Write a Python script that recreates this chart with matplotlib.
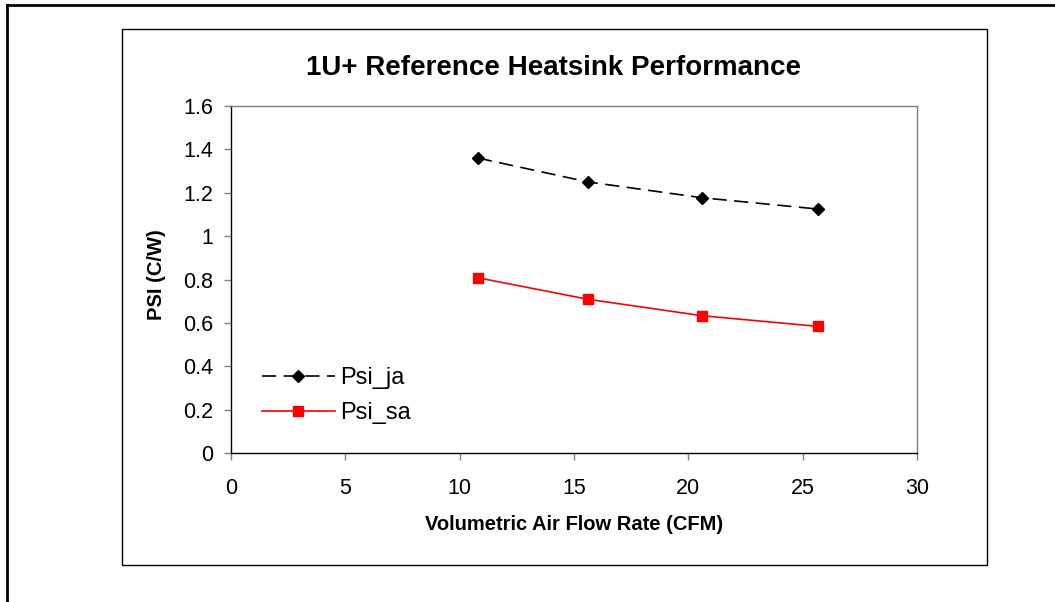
import matplotlib
matplotlib.use("Agg")
import matplotlib.pyplot as plt
from matplotlib.lines import Line2D
from matplotlib.patches import Rectangle
from matplotlib.ticker import FuncFormatter

plt.rcParams['font.family'] = ['Liberation Sans', 'DejaVu Sans']

# Data
flow_cfm = [10.8, 15.6, 20.6, 25.65]
psi_ja = [1.36, 1.25, 1.177, 1.125]
psi_sa = [0.808, 0.709, 0.633, 0.584]

x_ticks = [0, 5, 10, 15, 20, 25, 30]
y_ticks = [0, 0.2, 0.4, 0.6, 0.8, 1.0, 1.2, 1.4, 1.6]

fig = plt.figure(figsize=(10.55, 6.02), dpi=100)

# outer frame (only left and top edges show)
fig.add_artist(Line2D([7 / 1055, 7 / 1055], [0, 1 - 5 / 602], transform=fig.transFigure,
                      color='black', lw=2.0))
fig.add_artist(Line2D([7 / 1055, 1], [1 - 5 / 602, 1 - 5 / 602], transform=fig.transFigure,
                      color='black', lw=2.0))

# chart box
fig.add_artist(Rectangle((122 / 1055, 1 - 565 / 602), (987 - 122) / 1055, (565 - 29) / 602,
                         transform=fig.transFigure, fill=False, ec='black', lw=1.0))

ax = fig.add_axes([231 / 1055, 1 - 453 / 602, (917 - 231) / 1055, (453 - 106) / 602])

line_ja, = ax.plot(flow_cfm, psi_ja, color='black', lw=1.2, marker='D', ms=6.3,
                   mec='black', mfc='black', label='Psi_ja')
line_ja.set_dashes([8.5, 4.5])
ax.plot(flow_cfm, psi_sa, color='red', lw=1.2, marker='s', ms=7.3,
        mec='red', mfc='red', label='Psi_sa')

ax.set_xlim(0, 30)
ax.set_ylim(0, 1.6)
ax.set_xticks(x_ticks)
ax.set_yticks(y_ticks)
ax.yaxis.set_major_formatter(FuncFormatter(lambda v, p: '%g' % v))

for side in ['top', 'right']:
    ax.spines[side].set_color('#808080')
for side in ['left', 'bottom']:
    ax.spines[side].set_color('black')
for sp in ax.spines.values():
    sp.set_linewidth(1.0)

ax.tick_params(axis='both', direction='out', length=5, width=1, color='#808080',
               labelsize=15.5, labelcolor='black')
ax.tick_params(axis='y', pad=8)
ax.tick_params(axis='x', pad=13)

fig.text(554 / 1055, 1 - 68 / 602, '1U+ Reference Heatsink Performance',
         ha='center', va='center', fontsize=20, fontweight='bold')
fig.text(574 / 1055, 1 - 525 / 602, 'Volumetric Air Flow Rate (CFM)',
         ha='center', va='center', fontsize=14.5, fontweight='bold')
fig.text(157 / 1055, 1 - 275 / 602, 'PSI (C/W)', rotation=90,
         ha='center', va='center', fontsize=14.5, fontweight='bold')

ax.legend(loc='center left', bbox_to_anchor=(0.045, 0.165), frameon=False,
          fontsize=17, handlelength=3.1, handletextpad=0.2, labelspacing=0.55,
          borderpad=0, borderaxespad=0)

fig.savefig('out.png', dpi=100)
